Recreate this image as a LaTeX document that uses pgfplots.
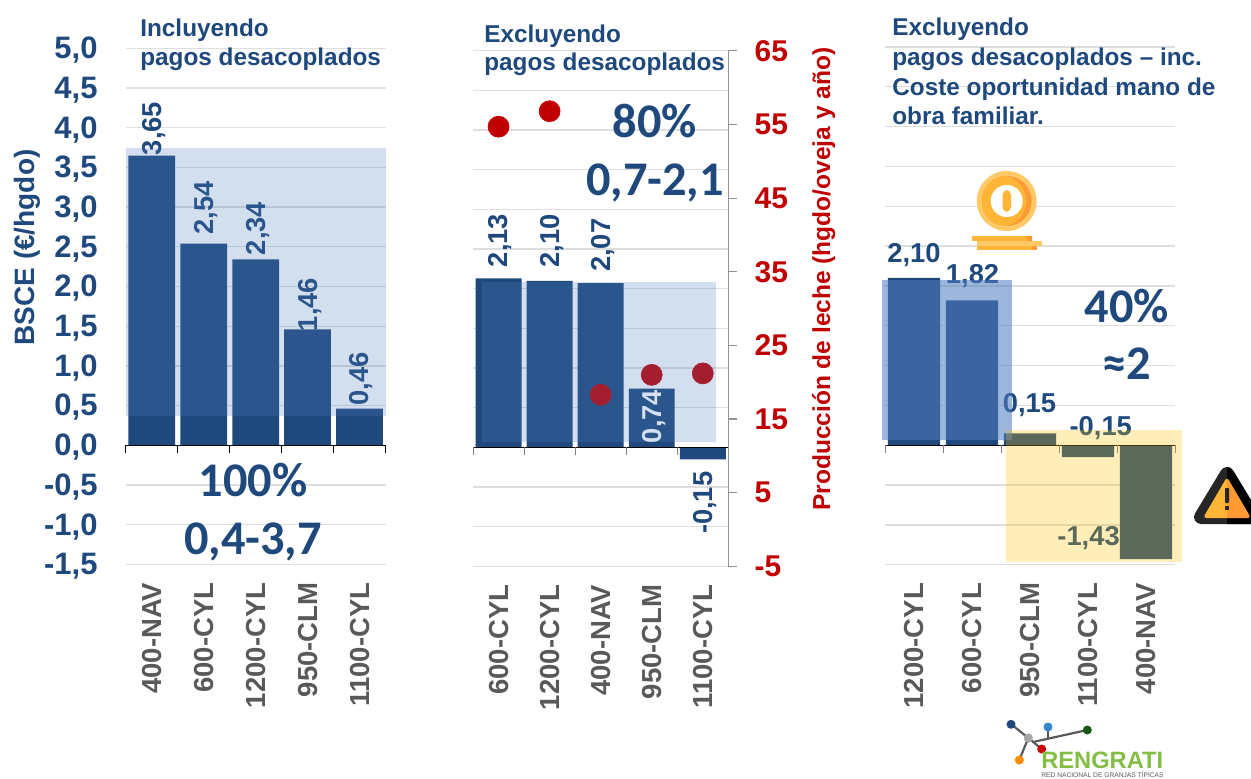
\documentclass[border=0pt]{standalone}
\usepackage{pgfplots}
\pgfplotsset{compat=1.18}
\usepackage{fontspec}
\setmainfont{Liberation Sans}
\newfontfamily\carlito{Carlito}

\definecolor{navy}{HTML}{1F497D}
\definecolor{band}{HTML}{507CC0}
\definecolor{gridc}{HTML}{DEDEDE}
\definecolor{catc}{HTML}{595959}
\definecolor{redc}{HTML}{C00000}
\definecolor{amber}{HTML}{FFC000}
\definecolor{coin}{HTML}{FFB636}
\definecolor{coinl}{HTML}{FFC968}
\definecolor{coind}{HTML}{FF9933}
\definecolor{logog}{HTML}{84BD45}

% 1 px of the reference = 0.6pt
\tikzset{px/.style={x=0.6pt,y=-0.6pt,shift={(0pt,466.8pt)}}}

\pgfplotsset{
  panel/.style={
    scale only axis,
    anchor=south west,
    xmin=-0.5, xmax=4.5,
    ymin=-1.5, ymax=5,
    xtick={0,1,2,3,4},
    ytick={-1.5,-1,-0.5,0,0.5,1,1.5,2,2.5,3,3.5,4,4.5,5},
    major tick length=0pt,
    axis line style={draw=none},
    ymajorgrids,
    grid style={gridc,line width=0.8pt},
    clip=false,
    xticklabel style={yshift=-10.8pt,rotate=90,anchor=east,text=catc,inner sep=0pt,
      font=\fontsize{16.5}{18}\selectfont\bfseries},
  },
  bars/.style={ybar,bar shift=0pt,bar width=0.9,fill=navy,draw=none},
  base/.style={draw=#1,line width=0.6pt,forget plot},
  combs/.style={ycomb,draw=#1,line width=0.6pt,no marks,forget plot},
}

% vertical value label: x, y, shift in px, text
\newcommand{\vlab}[4]{\node[xshift=1.2pt,yshift=#3*0.6pt,rotate=90,anchor=west,inner sep=0pt,text=navy,
  font=\fontsize{16.4}{18}\selectfont\bfseries] at (axis cs:#1,#2) {#4};}
\newcommand{\hlab}[3]{\node[anchor=base,inner sep=0pt,text=navy,
  font=\fontsize{16.4}{18}\selectfont\bfseries] at (axis cs:#1,#2) {#3};}

\begin{document}
\begin{tikzpicture}
\path[use as bounding box] (0,0) rectangle (750.6pt,466.8pt);

% ---- left panel
\begin{axis}[panel,
  at={(75.5pt,128.2pt)}, width=155.8pt, height=309.6pt,
  xticklabels={400-NAV,600-CYL,1200-CYL,950-CLM,1100-CYL},
  yticklabels={{-1,5},{-1,0},{-0,5},{0,0},{0,5},{1,0},{1,5},{2,0},{2,5},{3,0},{3,5},{4,0},{4,5},{5,0}},
  yticklabel style={anchor=east,text=navy,inner sep=0pt,xshift=-16.8pt,yshift=-1.2pt,
    font=\fontsize{18.6}{20}\selectfont\bfseries},
  every axis y label/.style={at={(axis description cs:-0.38,0.614)},anchor=center,rotate=90,
    text=navy,font=\fontsize{16.8}{19}\selectfont\bfseries},
  ylabel={BSCE (€/hgdo)},
]
\vlab{0}{3.65}{0}{3,65}
\vlab{1}{2.54}{9}{2,54}
\vlab{2}{2.34}{4}{2,34}
\vlab{3}{1.46}{-2}{1,46}
\vlab{4}{0.46}{3}{0,46}
\addplot[bars] coordinates {(0,3.65)(1,2.54)(2,2.34)(3,1.46)(4,0.46)};
\addplot[base=black] coordinates {(-0.5,0)(4.5,0)};
\addplot[combs=black] coordinates {(-0.5,-0.1)(0.5,-0.1)(1.5,-0.1)(2.5,-0.1)(3.5,-0.1)(4.5,-0.1)};
\end{axis}

% ---- middle panel, bars on the BSCE scale
\begin{axis}[panel,
  at={(283.8pt,127pt)}, width=153.2pt, height=309.3pt,
  xticklabels={600-CYL,1200-CYL,400-NAV,950-CLM,1100-CYL},
  yticklabels={},
]
\vlab{0}{2.13}{11}{2,13}
\vlab{1}{2.10}{13}{2,10}
\vlab{2}{2.07}{11}{2,07}
\addplot[bars] coordinates {(0,2.13)(1,2.10)(2,2.07)(3,0.74)(4,-0.15)};
\node[xshift=1.2pt,yshift=2.4pt,rotate=90,anchor=west,inner sep=0pt,text=white,
  font=\fontsize{16.4}{18}\selectfont\bfseries] at (axis cs:3,0) {0,74};
\node[xshift=1.2pt,yshift=-7.2pt,rotate=90,anchor=east,inner sep=0pt,text=navy,
  font=\fontsize{16.4}{18}\selectfont\bfseries] at (axis cs:4,-0.15) {-0,15};
\addplot[base=black] coordinates {(-0.5,0)(4.5,0)};
\addplot[combs=gray] coordinates {(-0.5,-0.1)(0.5,-0.1)(1.5,-0.1)(2.5,-0.1)(3.5,-0.1)(4.5,-0.1)};
\end{axis}

% ---- middle panel, milk yield on the right scale
\begin{axis}[
  scale only axis, anchor=south west,
  at={(283.8pt,127pt)}, width=153.2pt, height=309.3pt,
  xmin=-0.5, xmax=4.5, ymin=-5, ymax=65,
  axis x line=none, axis y line*=right,
  axis line style={draw=gray!85,line width=0.7pt},
  ytick={-5,5,15,25,35,45,55,65},
  yticklabels={-5,5,15,25,35,45,55,65},
  tick align=outside, major tick length=5.4pt,
  tick style={draw=gray!85,line width=0.7pt},
  yticklabel style={anchor=west,text=redc,inner sep=0pt,xshift=10.2pt,
    font=\fontsize{18}{20}\selectfont\bfseries},
  clip=false,
  every axis y label/.style={at={(axis description cs:1.374,0.557)},anchor=center,rotate=90,
    text=redc,font=\fontsize{14.7}{16}\selectfont\bfseries},
  ylabel={Producción de leche (hgdo/oveja y año)},
]
\addplot[only marks,mark=*,mark size=6.3pt,color=redc,mark options={fill=redc,draw=redc}]
  coordinates {(0,54.7)(1,56.8)(2,18.3)(3,21)(4,21.2)};
\end{axis}

% ---- right panel
\begin{axis}[panel,
  at={(531pt,128pt)}, width=174pt, height=310.6pt,
  xticklabels={1200-CYL,600-CYL,950-CLM,1100-CYL,400-NAV},
  yticklabels={},
]
\addplot[bars] coordinates {(0,2.10)(1,1.82)(2,0.15)(3,-0.15)(4,-1.43)};
\hlab{0}{2.30}{2,10}
\hlab{1.01}{2.03}{1,82}
\hlab{1.99}{0.41}{0,15}
\hlab{3.22}{0.12}{-0,15}
\hlab{3.01}{-1.26}{-1,43}
\addplot[base=black] coordinates {(-0.5,0)(4.5,0)};
\addplot[combs=gray] coordinates {(-0.5,-0.1)(0.5,-0.1)(1.5,-0.1)(2.5,-0.1)(3.5,-0.1)(4.5,-0.1)};
\end{axis}

\begin{scope}[px]
% shaded ranges
\fill[band,opacity=0.25] (126,148) rectangle (386,416);
\fill[band,opacity=0.25] (482,282) rectangle (716,442);
\fill[band,opacity=0.56] (882,280) rectangle (1012,440);
\fill[amber,opacity=0.27] (1006,430) rectangle (1182,562);

% titles
\begin{scope}[every node/.style={anchor=base west,inner sep=0pt,text=navy,
    font=\fontsize{14.6}{16}\selectfont\bfseries}]
\node at (140,37) {Incluyendo};
\node at (140,66) {pagos desacoplados};
\node at (484,43) {Excluyendo};
\node at (484,71) {pagos desacoplados};
\node at (892,36) {Excluyendo};
\node at (892,66) {pagos desacoplados – inc.};
\node at (892,96) {Coste oportunidad mano de};
\node at (892,125) {obra familiar.};
\end{scope}

% big figures
\begin{scope}[every node/.style={anchor=base,inner sep=0pt,text=navy,
    font=\fontsize{29}{31}\carlito\bfseries}]
\node at (253,496) {100\%};
\node at (253,554) {0,4-3,7};
\node at (655,138) {80\%};
\node at (655,196) {0,7-2,1};
\node at (1127,322) {40\%};
\node at (1127,379) {≈2};
\end{scope}

% coin
\fill[coinl] (1006.7,201) circle (30);
\fill[coind] (1006.7,201) circle (25);
\begin{scope}
\clip (1006.7,201) circle (25);
\fill[coin] (1000.7,201) circle (25.5);
\end{scope}
\fill[white] (1006.7,201) circle (16);
\fill[coin,rounded corners=3] (1002.5,190) rectangle (1011,212);
\fill[coin] (972,236) rectangle (1027,241);
\fill[coind] (1027,236) rectangle (1032,241);
\fill[coinl] (977,241) rectangle (1042,245.5);
\fill[coin] (977,245.5) rectangle (1032,250);
\fill[coind] (1032,245.5) rectangle (1037,250);

% warning sign, right half darker
\draw[black!85,fill=black!85,line width=8.4pt,line join=round]
  (1227,474) -- (1201,517) -- (1253,517) -- cycle;
\fill[coin,rounded corners=2] (1227,477) -- (1203,518) -- (1251,518) -- cycle;
\begin{scope}
\clip (1227,460) rectangle (1270,530);
\draw[black,fill=black,line width=8.4pt,line join=round]
  (1227,474) -- (1201,517) -- (1253,517) -- cycle;
\fill[coind,rounded corners=2] (1227,477) -- (1203,518) -- (1251,518) -- cycle;
\end{scope}
\fill[black!85,rounded corners=0.5] (1225,488) rectangle (1229,503);
\fill[black!85] (1225,506) rectangle (1229,510);

% logo
\draw[catc,line width=1.3pt] (1011,724) -- (1028.3,738) -- (1041.7,749);
\draw[catc,line width=1.3pt] (1028.3,738) -- (1019.3,760);
\draw[catc,line width=1.3pt] (1033,742) -- (1087.3,730);
\draw[catc,line width=1.3pt] (1048,727) -- (1048,738);
\fill[navy] (1011,724.3) circle (4.5);
\fill[blue!45!cyan!60!gray] (1048,727) circle (4.5);
\fill[green!30!black!80!gray] (1087.3,730) circle (4.5);
\fill[gray!70] (1028.3,738) circle (4.6);
\fill[red!80!black] (1041.7,749) circle (4.5);
\fill[orange!90!yellow] (1019.3,760) circle (4.5);
\node[anchor=base west,inner sep=0pt,text=logog,
  font=\fontsize{14.2}{16}\selectfont\bfseries] at (1041,768) {RENGRATI};
\node[anchor=base west,inner sep=0pt,text=catc,
  font=\fontsize{4}{5}\selectfont] at (1041,777.3) {RED NACIONAL DE GRANJAS TÍPICAS};
\end{scope}
\end{tikzpicture}
\end{document}
